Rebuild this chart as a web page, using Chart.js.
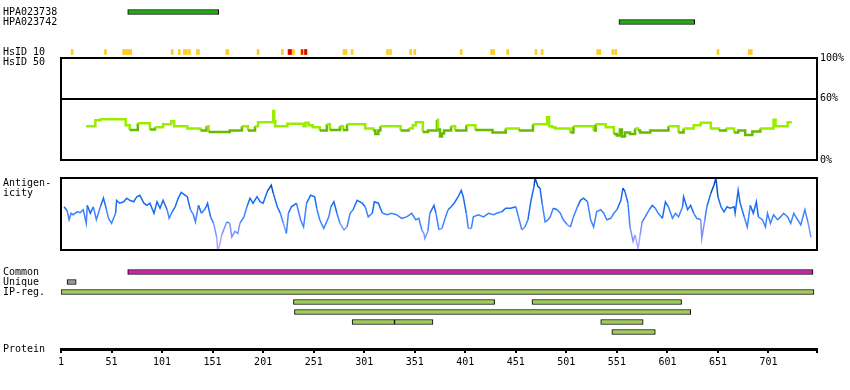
<!DOCTYPE html>
<html><head><meta charset="utf-8">
<script src="https://cdn.jsdelivr.net/npm/chart.js@4"></script>
<style>
html,body{margin:0;padding:0;background:#fff;}
#wrap{position:relative;width:850px;height:390px;overflow:hidden;background:#fff;}
canvas{position:absolute;left:0;}
.lbl{position:absolute;left:3px;font:10px/10px 'DejaVu Sans Mono',monospace;color:#000;white-space:pre;}
</style></head><body>
<div id="wrap">
<canvas id="cTop" width="850" height="67" style="top:0"></canvas>
<canvas id="cHsid" width="850" height="120" style="top:50px"></canvas>
<canvas id="cAnt" width="850" height="90" style="top:170px"></canvas>
<div class="lbl" style="top:178px">Antigen-<br>icity</div>
<canvas id="cBot" width="850" height="130" style="top:260px"></canvas>
</div>
<script>
const PROTEIN_LENGTH = 749;
const topRowLabels = ["HPA023738","HPA023742","","","HsID 10","HsID 50"];
const antibodyNames = ["HPA023738","HPA023742"];
const antibodyRanges = [[67,157],[553,628]];
const hsid10Yellow = [[11,13],[44,46],[62,71],[110,112],[117,119],[122,126],[127,129],[135,138],[164,167],[195,197],[219,221],[225,232],[238,245],[280,284],[288,290],[323,325],[326,328],[346,348],[350,352],[396,398],[426,430],[442,444],[470,472],[476,478],[531,535],[546,548],[549,551],[650,652],[681,685]];
const hsid10Red = [[226,229],[239,240],[242,244]];
const hsidResidues = [26,35,40,59,65,69,74,77,84,89,94,99,102,109,110,113,124,126,137,139,143,145,147,165,168,178,180,184,186,190,193,196,206,210,211,212,213,222,225,238,241,243,246,250,256,257,262,264,267,275,277,280,284,300,302,307,310,312,315,317,335,337,342,345,349,352,356,359,364,369,373,374,376,378,380,386,387,391,401,402,409,411,426,428,436,441,451,454,466,468,480,482,484,487,490,500,505,508,525,528,530,535,540,547,548,551,554,556,559,564,569,572,574,579,584,599,602,609,612,617,624,627,634,642,644,649,652,657,659,664,667,671,676,678,683,685,690,693,703,706,708,718,720,724];
const hsidValues = [33,39,40,40,34,29.5,29.5,36,36,30,32,32,35,35,38,33,33,31,31,29,29,33,27.5,27.5,29,29,33,33,29,29,33,37,37,37,48,38,33,33,35.5,35.5,33,36.5,34,32,32,29,29,35,29.5,29.5,33,29.5,35,35,31,31,29,25.5,29,33,33,29,29,31,34,37,37,27.5,29,29,39.5,30,23,26,29,29,33,29,29,34,34,29.5,29.5,27,27,31,31,29,29,35,35,42,33,32,31,31,27,33,33,29,35,35,32,32,25.5,24,30,23,27,25.5,31,29,27,27,29,29,33,33,27,31,31,34,36.5,36.5,31,31,29,29,31,31,27,29,29,24.5,24.5,28,28,31,31,39.5,33,33,37,37];
const hsidTicks = [0,60,100];
const antigenResidues = [4,7,9,11,13,17,20,23,26,27,30,33,36,40,43,46,48,51,55,56,59,63,66,69,73,76,79,83,86,89,93,96,99,102,106,108,111,114,117,120,124,126,129,132,134,137,140,144,146,149,152,155,156,158,160,162,165,168,170,173,176,178,182,185,188,191,195,198,201,205,209,211,215,218,221,224,226,229,234,238,241,244,248,252,254,257,261,266,268,271,274,277,281,284,287,290,294,299,302,305,309,311,315,319,324,328,333,338,343,348,352,355,358,360,361,364,366,370,372,375,378,381,384,387,390,394,397,399,402,404,407,409,414,419,424,429,432,437,441,446,451,454,457,460,463,466,469,470,473,475,477,480,483,485,488,492,495,498,502,505,508,512,515,518,522,525,528,531,535,538,541,545,548,551,555,557,559,562,564,567,569,572,574,576,579,583,586,589,592,596,599,602,606,609,612,616,617,621,624,627,630,634,635,638,640,644,647,649,651,654,657,660,663,667,668,671,673,677,680,683,686,689,691,695,698,700,703,706,710,713,716,720,723,726,729,733,737,740,743];
const antigenValues = [60,55,42,51,49,53,52,56,37,62,51,60,42,60,72,56,44,37,51,69,65,67,72,69,67,74,76,65,62,65,51,67,58,69,56,44,53,60,72,80,76,74,56,49,39,62,51,58,65,46,37,18,0,7,21,28,39,37,18,26,23,37,46,60,72,65,74,67,65,81,90,79,60,51,37,23,51,60,65,42,32,65,76,74,58,42,30,46,60,67,51,37,28,32,51,56,69,65,60,46,51,67,65,51,49,51,49,44,46,51,42,44,28,23,16,26,51,62,51,28,30,44,56,60,65,74,83,74,51,30,30,46,49,46,51,49,51,53,58,58,60,44,28,32,42,69,88,100,88,86,65,39,42,46,58,56,51,42,35,32,46,60,69,72,67,42,32,53,56,51,42,44,51,56,69,86,81,65,32,12,21,2,21,39,46,56,62,58,51,44,67,60,44,51,46,60,74,56,62,51,44,42,16,42,60,79,90,100,74,60,53,60,58,60,51,83,65,46,32,62,51,67,46,42,32,51,37,49,42,46,51,46,37,51,44,35,56,39,18];
const bottomRowLabels = ["Common","Unique","IP-reg.","","","",""];
const commonRanges = [[67,745]];
const uniqueRanges = [[7,16]];
const ipRanges = [[1,746],[231,430],[467,615],[232,624],[289,331],[331,369],[535,577],[546,589]];
const ipRows = [2,3,3,4,5,5,5,6];
const proteinTickLabels = [1,51,101,151,201,251,301,351,401,451,501,551,601,651,701];

Chart.defaults.font.family = "'DejaVu Sans Mono', monospace";
Chart.defaults.font.size = 10;
Chart.defaults.color = '#000';

const framePlugin = {
  id: 'frame',
  afterDatasetsDraw(chart) {
    const {ctx, chartArea: a} = chart;
    ctx.save();
    ctx.strokeStyle = '#000';
    ctx.lineWidth = 2;
    ctx.strokeRect(a.left, a.top, a.right - a.left, a.bottom - a.top);
    ctx.restore();
  }
};
const baseOpts = {
  responsive: false, animation: false, events: [],
  plugins: {legend: {display: false}, tooltip: {enabled: false}}
};
const hiddenX = {type: 'linear', min: 1, max: PROTEIN_LENGTH, display: false};
function fixLeftAxis(a) { a.width = 58; a.paddingTop = 0; a.paddingBottom = 0; }

// Antibodies + HsID 10
new Chart(document.getElementById('cTop'), {
  type: 'bar',
  data: {
    labels: topRowLabels,
    datasets: [
      {label: 'HsID 10 high', data: hsid10Red.map(r => ({x: r, y: 'HsID 10'})), backgroundColor: '#dd0000', borderWidth: 0, barThickness: 5, grouped: false, order: 0},
      {label: 'HsID 10', data: hsid10Yellow.map(r => ({x: r, y: 'HsID 10'})), backgroundColor: '#ffcc22', borderWidth: 0, barThickness: 5, grouped: false, order: 1},
      {label: 'Antibodies', data: antibodyRanges.map((r, i) => ({x: r, y: antibodyNames[i]})), backgroundColor: '#22aa11', borderColor: '#000', borderWidth: 1, borderSkipped: false, barThickness: 5, grouped: false, order: 2}
    ]
  },
  options: Object.assign({}, baseOpts, {
    indexAxis: 'y',
    layout: {padding: {left: 3, right: 33, top: 7, bottom: 0}},
    scales: {
      x: hiddenX,
      y: {type: 'category', offset: true, grid: {display: false}, border: {display: false},
          ticks: {crossAlign: 'far', padding: 0, autoSkip: false},
          afterFit: fixLeftAxis}
    }
  })
});

// HsID 50
new Chart(document.getElementById('cHsid'), {
  type: 'line',
  data: {datasets: [{
    label: 'HsID 50',
    data: hsidResidues.map((r, i) => ({x: r, y: hsidValues[i]})),
    borderWidth: 2.5, pointRadius: 0, stepped: true, borderColor: '#99ee00',
    segment: {borderColor: c => c.p0.parsed.y < 30.5 ? '#66bb00' : '#99ee00'}
  }]},
  options: Object.assign({}, baseOpts, {
    layout: {padding: {left: 61, right: 0, top: 8, bottom: 10}},
    scales: {
      x: hiddenX,
      y: {position: 'right', min: 0, max: 100,
          afterBuildTicks(a) { a.ticks = hsidTicks.map(v => ({value: v})); },
          ticks: {callback: v => v + '%', padding: 3, autoSkip: false},
          grid: {drawTicks: false, lineWidth: 2, color: c => (c.tick && c.tick.value === 60) ? '#000' : 'rgba(0,0,0,0)'},
          border: {display: false},
          afterFit(a) { a.width = 33; a.paddingTop = 0; a.paddingBottom = 0; }}
    }
  }),
  plugins: [framePlugin]
});

// Antigenicity
function antigenColor(v) {
  if (v >= 80) return '#0650c4';
  if (v >= 55) return '#1a6cf0';
  if (v >= 35) return '#3d84ff';
  if (v >= 15) return '#7a92ff';
  return '#aaa6ff';
}
new Chart(document.getElementById('cAnt'), {
  type: 'line',
  data: {datasets: [{
    label: 'Antigenicity',
    data: antigenResidues.map((r, i) => ({x: r, y: antigenValues[i]})),
    borderWidth: 1.5, pointRadius: 0, tension: 0, borderColor: '#1a6cf0',
    segment: {borderColor: c => antigenColor((c.p0.parsed.y + c.p1.parsed.y) / 2)}
  }]},
  options: Object.assign({}, baseOpts, {
    layout: {padding: {left: 61, right: 33, top: 8, bottom: 10}},
    scales: {x: hiddenX, y: {min: 0, max: 100, display: false}}
  }),
  plugins: [framePlugin]
});

// Common / Unique / IP-reg. + protein axis
new Chart(document.getElementById('cBot'), {
  type: 'bar',
  data: {datasets: [
    {label: 'Common', data: commonRanges.map(r => ({x: r, y: 0})), backgroundColor: '#cc22aa', borderColor: '#000', borderWidth: 1, borderSkipped: false, barThickness: 5, grouped: false},
    {label: 'Unique', data: uniqueRanges.map(r => ({x: r, y: 1})), backgroundColor: '#999999', borderColor: '#000', borderWidth: 1, borderSkipped: false, barThickness: 5, grouped: false},
    {label: 'IP-reg.', data: ipRanges.map((r, i) => ({x: r, y: ipRows[i]})), backgroundColor: '#a2cc5a', borderColor: '#000', borderWidth: 1, borderSkipped: false, barThickness: 5, grouped: false}
  ]},
  options: Object.assign({}, baseOpts, {
    indexAxis: 'y',
    layout: {padding: {left: 3, right: 33, top: 7, bottom: 0}},
    scales: {
      x: {type: 'linear', min: 1, max: PROTEIN_LENGTH, position: 'bottom',
          afterBuildTicks(a) { a.ticks = proteinTickLabels.concat([PROTEIN_LENGTH]).map(v => ({value: v})); },
          ticks: {autoSkip: false, maxRotation: 0, padding: 3, callback: v => proteinTickLabels.includes(v) ? String(v) : ''},
          grid: {drawOnChartArea: false, drawTicks: true, tickLength: 4, lineWidth: 2, color: '#000'},
          border: {display: true, width: 3, color: '#000'},
          afterFit(a) { a.height = 41; }},
      y: {type: 'linear', reverse: true, min: -0.5, max: 7.7, offset: false,
          afterBuildTicks(a) { a.ticks = bottomRowLabels.map((_, i) => ({value: i})).concat([{value: 7.7}]); },
          ticks: {crossAlign: 'far', padding: 0, autoSkip: false, callback: v => v < bottomRowLabels.length ? bottomRowLabels[v] : 'Protein'},
          grid: {display: false, offset: false}, border: {display: false},
          afterFit: fixLeftAxis}
    }
  })
});
</script>
</body></html>
